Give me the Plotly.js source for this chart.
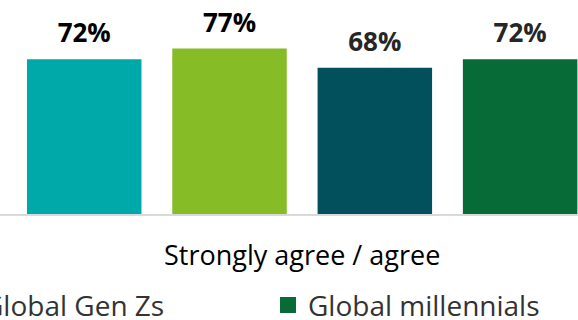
<!DOCTYPE html>
<html><head><meta charset="utf-8">
<script src="https://cdn.plot.ly/plotly-3.0.1.min.js"></script>
<style>html,body{margin:0;padding:0;background:#fff;overflow:hidden;width:578px;height:320px}#chart{width:635px;height:320px;margin-left:-57px}</style>
</head><body><div id="chart"></div>
<script>
const categories = ["Strongly agree / agree"];
const seriesNames = ["Global Gen Zs", "Series 2", "Series 3", "Global millennials"];
const seriesValues = [[72], [77], [68], [72]];
const seriesColors = ["#00A9A9", "#86BC25", "#01505B", "#076B38"];
const labelColors = ["#000000", "#000000", "#262626", "#262626"];
const legendSeries = [0, 3];
const legendWidths = [280, 240];

const traces = [];
seriesValues.forEach((vals, i) => {
  traces.push({type: 'bar', x: categories, y: vals, name: seriesNames[i],
    marker: {color: seriesColors[i]}, offsetgroup: 'g' + i, showlegend: false, hoverinfo: 'skip'});
});
seriesValues.forEach((vals, i) => {
  traces.push({type: 'scatter', mode: 'markers+text', x: categories, y: vals, offsetgroup: 'g' + i,
    text: vals.map(v => v + '%'), textposition: 'top center',
    textfont: {family: 'Open Sans', size: 26, color: labelColors[i], weight: 700},
    marker: {size: 15, color: 'rgba(0,0,0,0)'}, showlegend: false, hoverinfo: 'skip', cliponaxis: false});
});
legendSeries.forEach((i, k) => {
  traces.push({type: 'scatter', mode: 'markers', x: [null], y: [null], xaxis: 'x2', yaxis: 'y2',
    name: seriesNames[i], legendwidth: legendWidths[k],
    marker: {symbol: 'square', size: 16, color: seriesColors[i]}, showlegend: true});
});

const layout = {
  width: 635, height: 320,
  margin: {l: 0, r: 0, t: 0, b: 106, pad: 0, autoexpand: false},
  paper_bgcolor: '#ffffff', plot_bgcolor: '#ffffff',
  barmode: 'group', bargap: 0.3, bargroupgap: 0.212,
  scattermode: 'group', scattergap: 0.3,
  font: {family: 'Open Sans'},
  xaxis: {type: 'category', range: [-0.4326, 0.3322], showline: true, linecolor: '#d9d9d9', linewidth: 1.5,
    ticks: '', ticklabelstandoff: 17, tickfont: {family: 'Open Sans', size: 27, color: '#000000'},
    showgrid: false, zeroline: false, fixedrange: true, automargin: false},
  yaxis: {range: [0, 99.5], visible: false, fixedrange: true},
  xaxis2: {overlaying: 'x', visible: false},
  yaxis2: {overlaying: 'y', visible: false},
  showlegend: true,
  legend: {orientation: 'h', x: 0, xanchor: 'left', y: -0.31, yanchor: 'top',
    font: {family: 'Open Sans', size: 28, color: '#333333'}, bgcolor: 'rgba(0,0,0,0)', borderwidth: 0}
};
Plotly.newPlot('chart', traces, layout, {displayModeBar: false, staticPlot: true});
</script></body></html>
